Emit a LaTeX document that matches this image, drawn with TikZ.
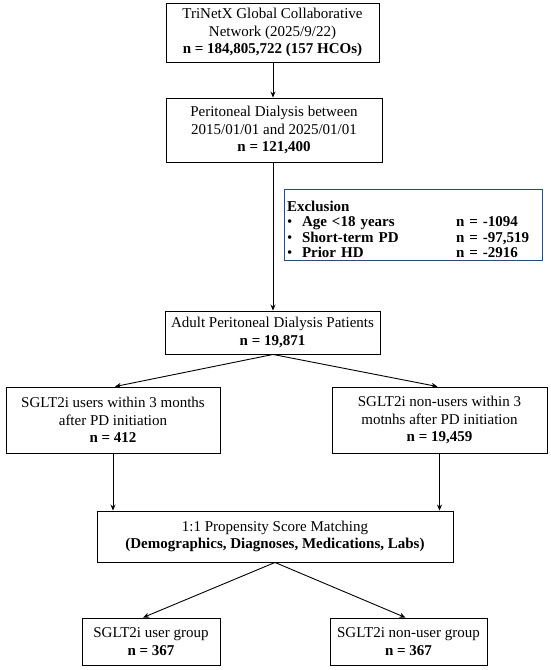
\documentclass[tikz,border=0pt]{standalone}
\usepackage{fontspec}
\setmainfont{Liberation Serif}
\usetikzlibrary{arrows.meta}
\definecolor{exblue}{HTML}{2F4A78}
\tikzset{
  box/.style={draw=black, line width=0.9pt, align=center, inner sep=0pt, font=\fontsize{15}{17.5}\selectfont},
  arr/.style={-{Stealth[length=6pt,width=5pt]}, line width=0.9pt},
}
\begin{document}
\begin{tikzpicture}[x=1pt,y=-1pt]
\useasboundingbox[fill=white] (0,0) rectangle (550,670);
\node[box, minimum width=213pt, minimum height=59pt] (b1) at (272.5,32.5)
  {TriNetX Global Collaborative\\Network (2025/9/22)\\\textbf{n = 184,805,722 (157 HCOs)}};
\node[box, minimum width=216pt, minimum height=64pt] (b2) at (274,130)
  {Peritoneal Dialysis between\\2015/01/01 and 2025/01/01\\\textbf{n = 121,400}};
\node[box, draw=exblue, minimum width=258pt, minimum height=71pt, align=left, text width=252pt, font=\fontsize{15}{15.6}\selectfont] (ex) at (413,225)
  {\rule{0pt}{19pt}\textbf{Exclusion}\\
   \makebox[15pt][l]{\textbullet}\makebox[154pt][l]{\textbf{Age <18 years}}\textbf{n = -1094}\\
   \makebox[15pt][l]{\textbullet}\makebox[154pt][l]{\textbf{Short-term PD}}\textbf{n = -97,519}\\
   \makebox[15pt][l]{\textbullet}\makebox[154pt][l]{\textbf{Prior HD}}\textbf{n = -2916}};
\node[box, minimum width=215pt, minimum height=43pt] (adult) at (272.5,332.5)
  {Adult Peritoneal Dialysis Patients\\\textbf{n = 19,871}};
\node[box, minimum width=214pt, minimum height=66pt] (left) at (113,420)
  {SGLT2i users within 3 months\\after PD initiation\\\textbf{n = 412}};
\node[box, minimum width=215pt, minimum height=66pt] (right) at (439.5,420)
  {SGLT2i non-users within 3\\motnhs after PD initiation\\\textbf{n = 19,459}};
\node[box, minimum width=356pt, minimum height=51pt] (psm) at (275,536.5)
  {1:1 Propensity Score Matching\\\textbf{(Demographics, Diagnoses, Medications, Labs)}};
\node[box, minimum width=138pt, minimum height=47pt] (bl) at (151,641.5)
  {SGLT2i user group\\\textbf{n = 367}};
\node[box, minimum width=157pt, minimum height=47pt] (br) at (408.5,641.5)
  {SGLT2i non-user group\\\textbf{n = 367}};
\coordinate (c1) at ([xshift=0.5pt]b1.south);
\draw[arr] (c1) -- (c1 |- b2.north);
\draw[arr] (c1 |- b2.south) -- (c1 |- adult.north);
\draw[arr] (c1 |- adult.south) -- ([xshift=2pt]left.north);
\draw[arr] (c1 |- adult.south) -- ([xshift=-2pt]right.north);
\draw[arr] (left.south) -- (left.south |- psm.north);
\draw[arr] (right.south) -- (right.south |- psm.north);
\draw[arr] (psm.south) -- ([xshift=-8pt]bl.north);
\draw[arr] (psm.south) -- ([xshift=-3pt]br.north);
\end{tikzpicture}
\end{document}
